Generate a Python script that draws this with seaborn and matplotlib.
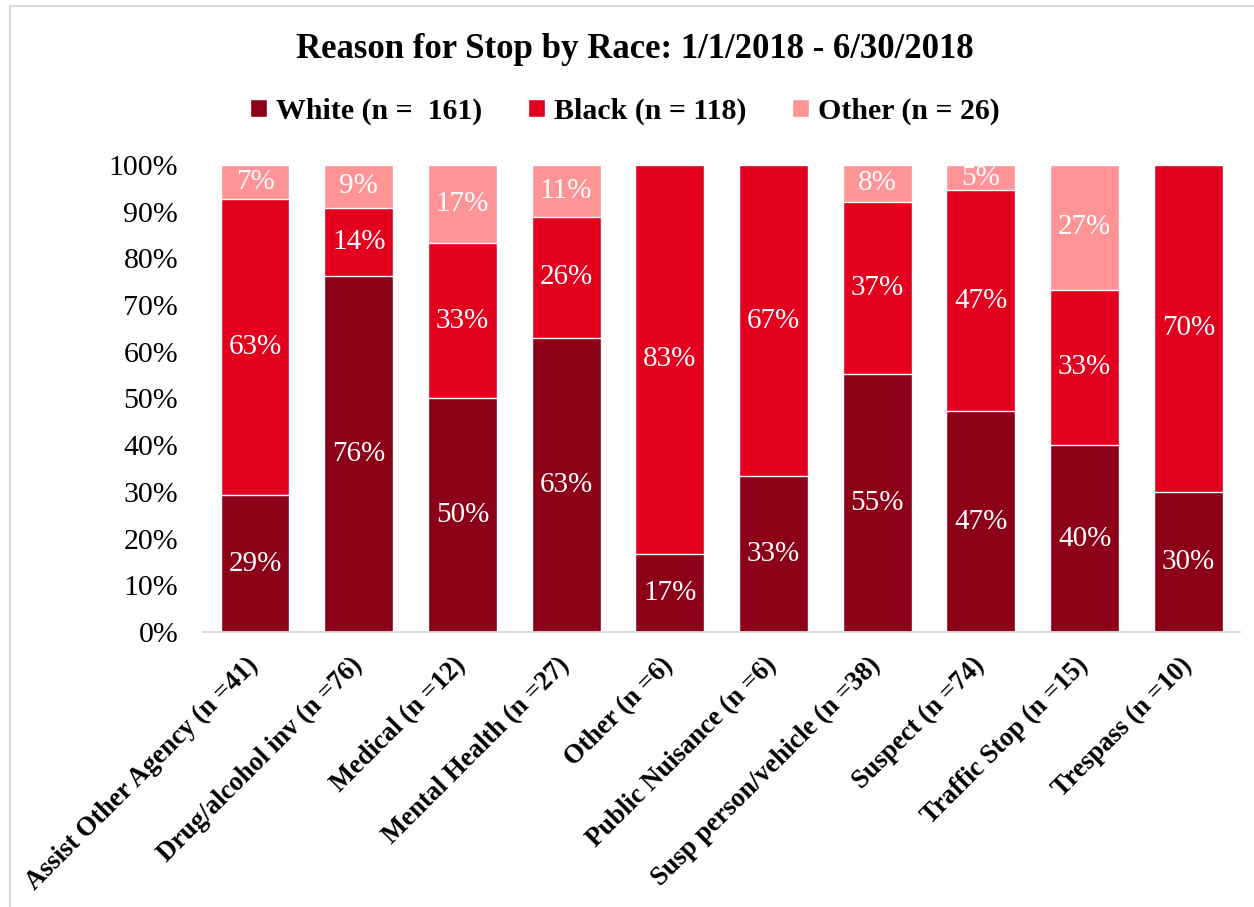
import seaborn as sns
import matplotlib.pyplot as plt
import matplotlib.transforms as mtransforms
from matplotlib.patches import Patch, Rectangle
import pandas as pd

# データ（各理由ごとの人種別割合, %）
reasons = ["Assist Other Agency (n =41)", "Drug/alcohol inv (n =76)", "Medical (n =12)",
           "Mental Health (n =27)", "Other (n =6)", "Public Nuisance (n =6)",
           "Susp person/vehicle (n =38)", "Suspect (n =74)", "Traffic Stop (n =15)",
           "Trespass (n =10)"]
white = [29.3, 76.3, 50.0, 63.0, 16.7, 33.3, 55.3, 47.3, 40.0, 30.0]
black = [63.4, 14.5, 33.3, 25.9, 83.3, 66.7, 36.8, 47.3, 33.3, 70.0]
other = [7.3, 9.2, 16.7, 11.1, 0.0, 0.0, 7.9, 5.4, 26.7, 0.0]
series = ["White (n =  161)", "Black (n = 118)", "Other (n = 26)"]
colors = ["#8C0018", "#E2001E", "#FF9496"]
title = "Reason for Stop by Race: 1/1/2018 - 6/30/2018"

sns.set_theme(style="white")
plt.rcParams["font.family"] = ["Liberation Serif", "DejaVu Serif"]
plt.rcParams["text.color"] = "black"
plt.rcParams["xtick.color"] = "black"
plt.rcParams["ytick.color"] = "black"

df = pd.DataFrame({"reason": reasons, "white": white, "black": black, "other": other})
df["wb"] = df["white"] + df["black"]
df["total"] = df["wb"] + df["other"]

fig = plt.figure(figsize=(12.54, 9.07), dpi=100)
ax = fig.add_axes([0.162, 0.3032, 0.827, 0.5149])

# 積み上げ棒: 上の層から順に重ねる
for col, c in zip(["total", "wb", "white"], colors[::-1]):
    sns.barplot(data=df, x="reason", y=col, color=c, saturation=1,
                width=0.665, errorbar=None, ax=ax)

# 値ラベル
bottoms = [0.0] * len(reasons)
for vals in [white, black, other]:
    for i, v in enumerate(vals):
        if v > 0:
            ax.text(i, bottoms[i] + v / 2, f"{v:.0f}%", ha="center", va="center",
                    color="white", fontsize=21)
        bottoms[i] += v

ax.set_xlim(-0.5, 9.5)
ax.set_ylim(0, 100)
ax.set_yticks(range(0, 101, 10))
ax.set_yticklabels([f"{t}%" for t in range(0, 101, 10)], fontsize=21.5)
ax.set_xticks(range(len(reasons)))
ax.set_xticklabels(reasons, rotation=45, ha="right", va="top", rotation_mode="anchor",
                   fontweight="bold", fontsize=19.2)
ax.tick_params(axis="x", length=0, pad=15)
ax.tick_params(axis="y", length=0, pad=18)
offset = mtransforms.ScaledTranslation(-9 / 100, 0, fig.dpi_scale_trans)
for lab in ax.get_xticklabels():
    lab.set_transform(lab.get_transform() + offset)
ax.set_xlabel("")
ax.set_ylabel("")
for s in ["top", "right", "left"]:
    ax.spines[s].set_visible(False)
ax.spines["bottom"].set_color("#D9D9D9")
ax.spines["bottom"].set_linewidth(1.3)

# 凡例とタイトル
handles = [Patch(facecolor=c, label=s) for c, s in zip(colors, series)]
fig.legend(handles=handles, loc="center", bbox_to_anchor=(625 / 1254, 1 - 111 / 907),
           ncol=3, frameon=False, prop={"weight": "bold", "size": 21.5},
           handlelength=0.55, handleheight=0.55, handletextpad=0.3, columnspacing=1.55)
fig.text(635 / 1254, 1 - 50 / 907, title, ha="center", va="center",
         fontsize=25, fontweight="bold")

# 外枠
fig.patches.append(Rectangle((10 / 1254, -0.1), 1.2, 1.1 - 6 / 907, transform=fig.transFigure,
                             fill=False, edgecolor="#D9D9D9", lw=1.5))

fig.savefig("out.png", dpi=100)
